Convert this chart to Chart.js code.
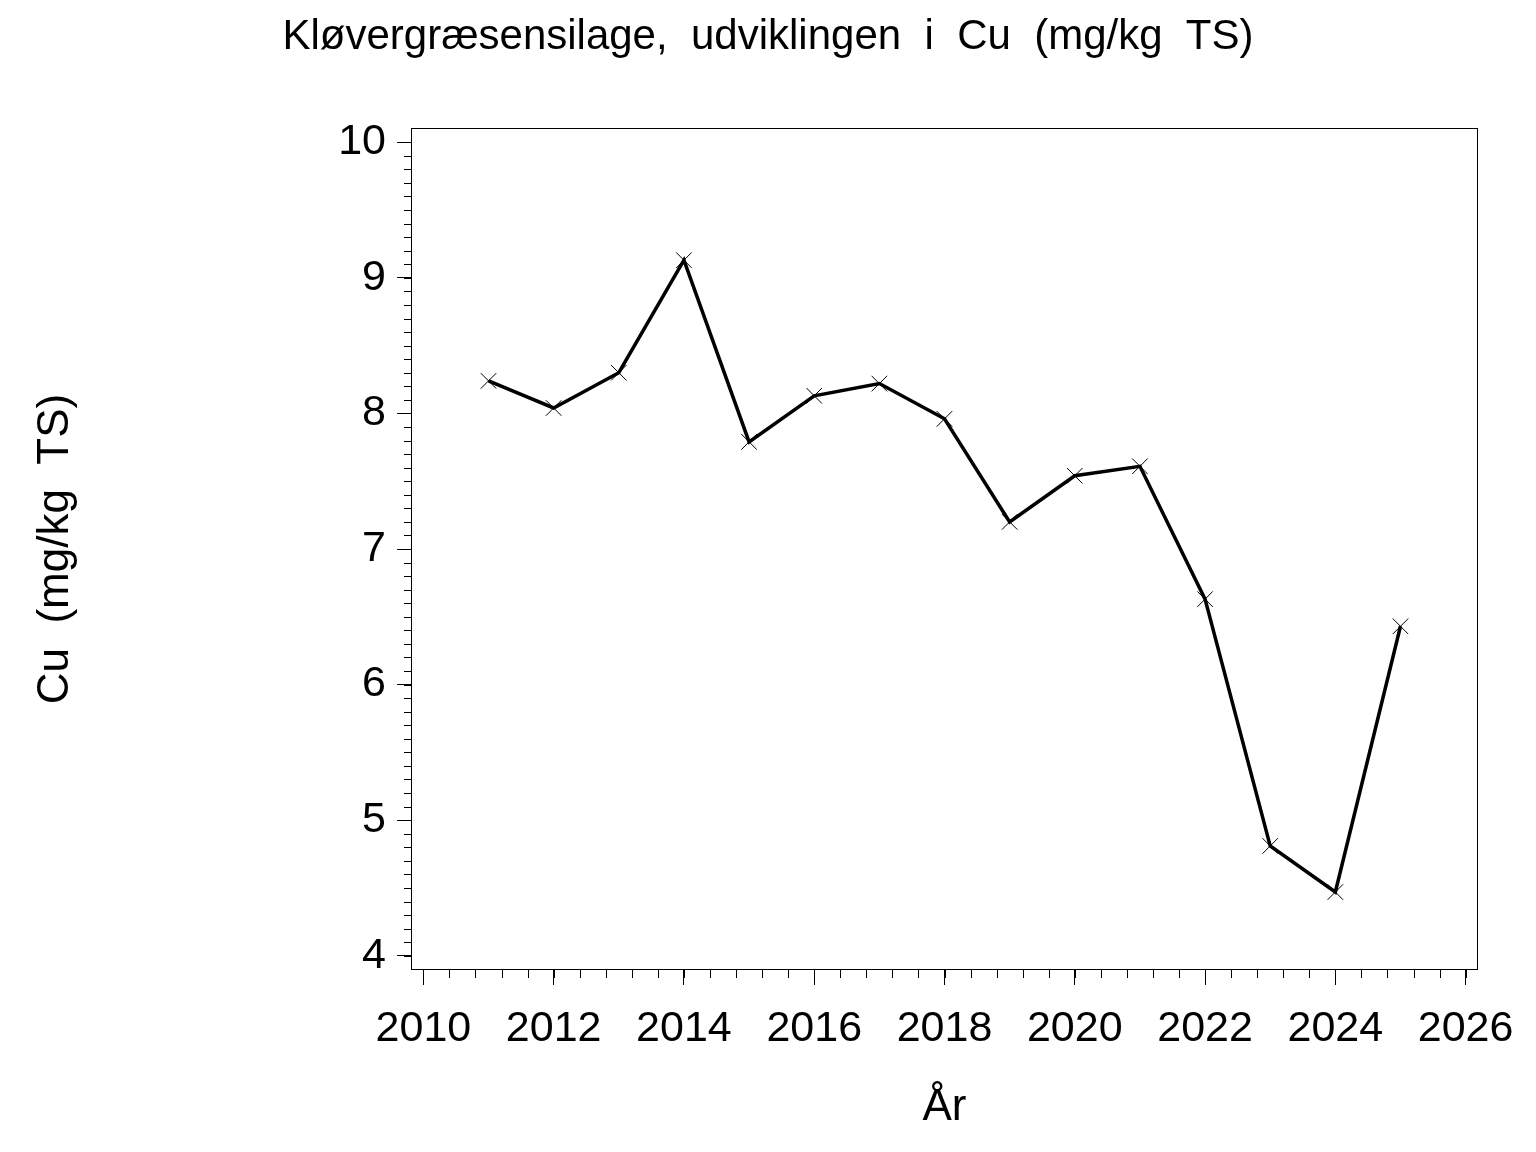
<!DOCTYPE html>
<html>
<head>
<meta charset="utf-8">
<script src="https://cdn.jsdelivr.net/npm/chart.js@4.4.1/dist/chart.umd.min.js"></script>
<style>
  body { margin: 0; background: #fff; }
  #wrap { width: 1536px; height: 1152px; }
</style>
</head>
<body>
<div id="wrap"><canvas id="myChart"></canvas></div>
<script>
// data
const years = [2011, 2012, 2013, 2014, 2015, 2016, 2017, 2018, 2019, 2020, 2021, 2022, 2023, 2024, 2025];
const cuValues = [8.24, 8.04, 8.30, 9.13, 7.79, 8.13, 8.22, 7.96, 7.20, 7.54, 7.61, 6.63, 4.81, 4.47, 6.43];
const xTickLabels = [2010, 2012, 2014, 2016, 2018, 2020, 2022, 2024, 2026];
const yTickLabels = [4, 5, 6, 7, 8, 9, 10];

const titleText = "Kløvergræsensilage,  udviklingen  i  Cu  (mg/kg  TS)";
const yTitle = "Cu  (mg/kg  TS)";
const xTitle = "År";

Chart.defaults.font.family = "'Liberation Sans', Arial, sans-serif";
Chart.defaults.color = "#000";

// frame + minor ticks
const framePlugin = {
  id: 'frame',
  afterDraw(chart) {
    const ctx = chart.ctx;
    const a = chart.chartArea;
    const xs = chart.scales.x, ys = chart.scales.y;
    ctx.save();
    ctx.strokeStyle = '#000';
    ctx.lineWidth = 1;
    ctx.strokeRect(Math.round(a.left) + 0.5, Math.round(a.top) + 0.5,
      Math.round(a.right - a.left) - 1, Math.round(a.bottom - a.top) - 1);
    ctx.beginPath();
    for (let v = 4; v <= 10.001; v += 0.1) {
      const py = Math.round(ys.getPixelForValue(v)) + 0.5;
      ctx.moveTo(a.left - 7, py);
      ctx.lineTo(a.left, py);
    }
    for (let v = 2010; v <= 2026.001; v += 0.4) {
      const px = Math.round(xs.getPixelForValue(v)) + 0.5;
      ctx.moveTo(px, a.bottom);
      ctx.lineTo(px, a.bottom + 8);
    }
    ctx.stroke();
    ctx.restore();
  }
};

new Chart("myChart", {
  type: "line",
  data: {
    datasets: [{
      data: years.map((y, i) => ({ x: y, y: cuValues[i] })),
      borderColor: "#000",
      borderWidth: 3.5,
      pointStyle: "crossRot",
      pointRadius: 11,
      pointBorderWidth: 1,
      pointBorderColor: "#000",
      tension: 0,
      clip: false
    }]
  },
  options: {
    responsive: true,
    maintainAspectRatio: false,
    animation: false,
    layout: { padding: 0 },
    plugins: {
      legend: { display: false },
      tooltip: { enabled: false },
      title: {
        display: true,
        text: titleText,
        font: { size: 42, weight: 'normal' },
        padding: { top: 12, bottom: 65.6 }
      }
    },
    scales: {
      x: {
        type: "linear",
        min: 2009.81,
        max: 2026.19,
        afterBuildTicks: (s) => { s.ticks = xTickLabels.map(v => ({ value: v })); },
        afterFit: (s) => { s.height = 182; },
        ticks: {
          font: { size: 43 },
          padding: 18,
          maxRotation: 0,
          autoSkip: false,
          callback: (v) => String(v)
        },
        grid: { drawOnChartArea: false, tickLength: 15, tickColor: "#000", tickWidth: 1 },
        border: { display: false },
        title: {
          display: true,
          text: xTitle,
          font: { size: 44 },
          padding: { top: 0, bottom: 18 }
        }
      },
      y: {
        type: "linear",
        min: 3.895,
        max: 10.105,
        afterBuildTicks: (s) => { s.ticks = yTickLabels.map(v => ({ value: v })); },
        afterFit: (s) => { s.width = 411; },
        ticks: {
          font: { size: 43 },
          padding: 11,
          callback: (v) => String(v)
        },
        grid: { drawOnChartArea: false, tickLength: 14, tickColor: "#000", tickWidth: 1 },
        border: { display: false },
        title: {
          display: true,
          text: yTitle,
          font: { size: 44 },
          padding: { top: 29, bottom: 0 }
        }
      },
      yRight: {
        position: "right",
        display: true,
        ticks: { display: false },
        grid: { display: false },
        border: { display: false },
        afterFit: (s) => { s.width = 58; }
      }
    }
  },
  plugins: [framePlugin]
});
</script>
</body>
</html>
